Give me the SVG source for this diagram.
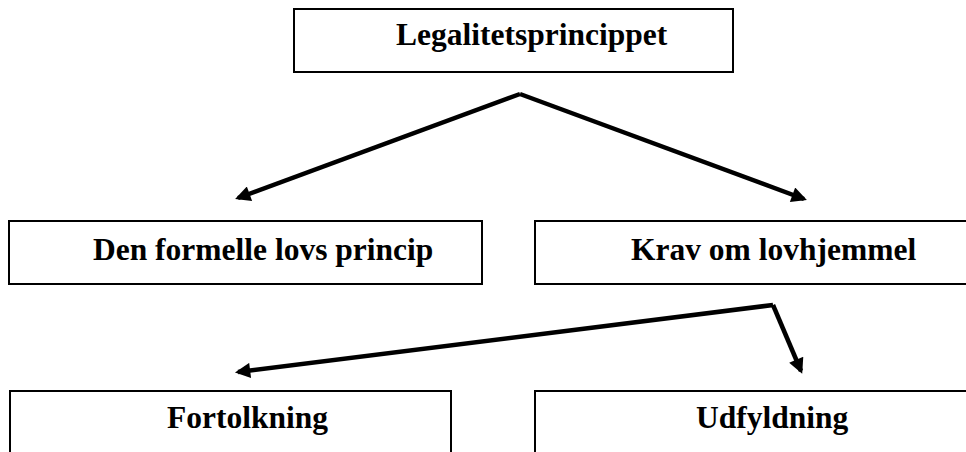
<svg xmlns="http://www.w3.org/2000/svg" width="966" height="452" viewBox="0 0 966 452">
<style>
.box{fill:#fff;stroke:#000;stroke-width:2}
.lbl{font-family:"Liberation Serif","Times New Roman",serif;font-weight:bold;font-size:31.5px;fill:#000}
.con{stroke:#000;stroke-width:4.5;fill:none;marker-end:url(#ah)}
</style>
<defs>
<marker id="ah" viewBox="0 0 10 10" refX="8" refY="5" markerWidth="4" markerHeight="3.4" orient="auto" markerUnits="strokeWidth">
<path d="M0,0 L10,5 L0,10 Z" fill="#000"/>
</marker>
</defs>
<rect width="966" height="452" fill="#fff"/>
<g id="connectors">
<polyline class="con" points="520,94 238,198"/>
<polyline class="con" points="520,94 804,199"/>
<polyline class="con" points="773,305 238,372"/>
<polyline class="con" points="773,305 801,371"/>
</g>
<g id="n-legalitet">
<rect class="box" x="294" y="9" width="439" height="63"/>
<text class="lbl" x="396" y="45">Legalitetsprincippet</text>
</g>
<g id="n-formelle">
<rect class="box" x="9" y="221" width="473" height="63"/>
<text class="lbl" x="93" y="260">Den formelle lovs princip</text>
</g>
<g id="n-krav">
<rect class="box" x="535" y="221" width="440" height="63"/>
<text class="lbl" x="631" y="260">Krav om lovhjemmel</text>
</g>
<g id="n-fortolkning">
<rect class="box" x="10" y="391" width="441" height="70"/>
<text class="lbl" x="167" y="428">Fortolkning</text>
</g>
<g id="n-udfyldning">
<rect class="box" x="535" y="391" width="440" height="70"/>
<text class="lbl" x="696" y="428">Udfyldning</text>
</g>
</svg>
